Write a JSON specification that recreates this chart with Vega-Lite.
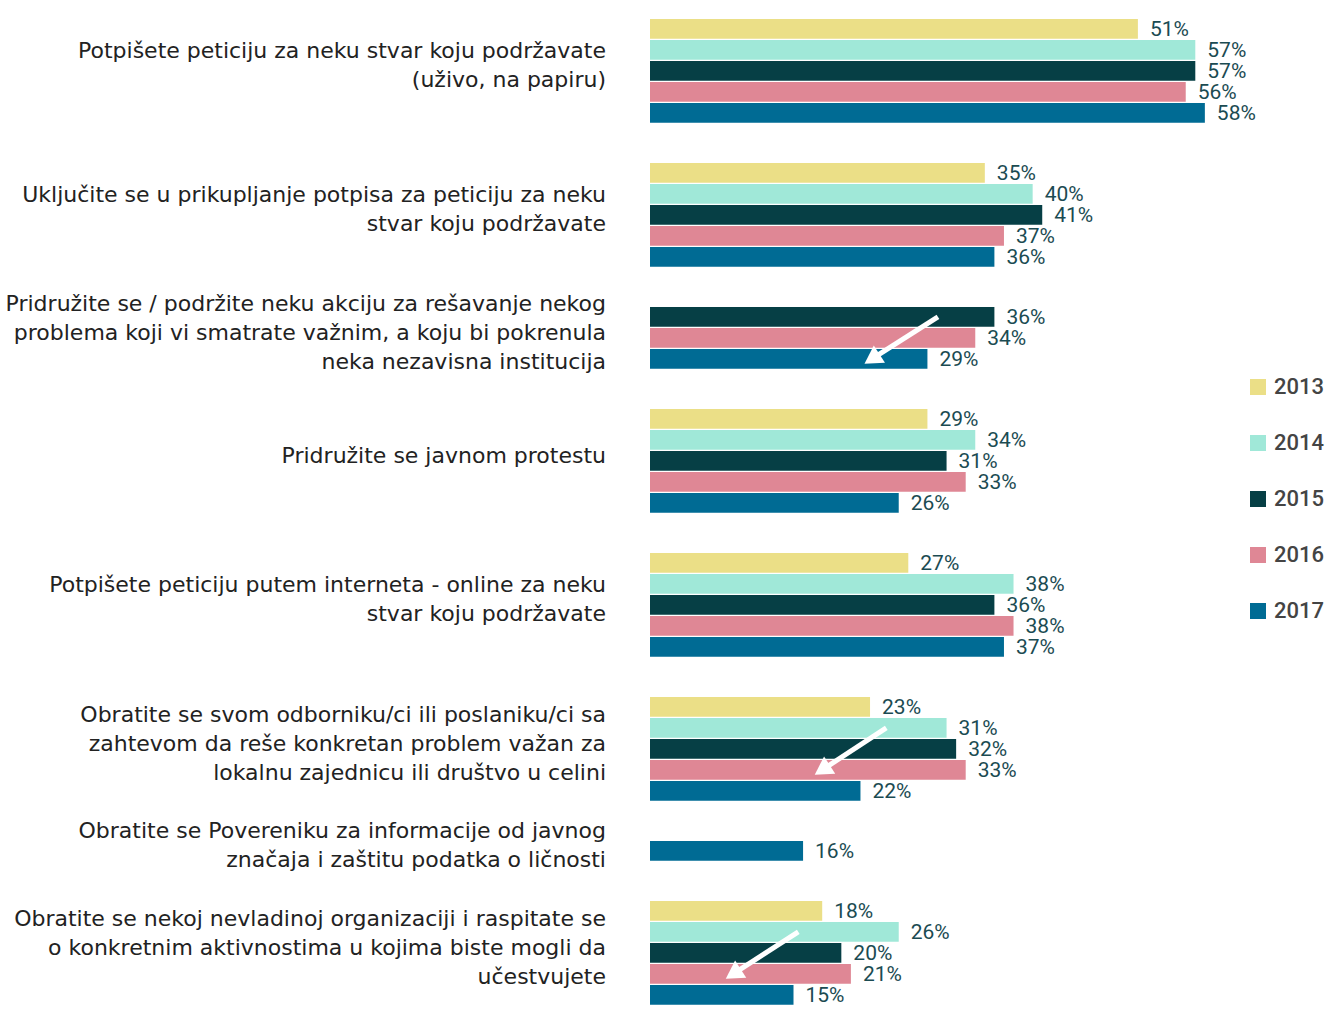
{
  "$schema": "https://vega.github.io/schema/vega-lite/v6.json",
  "padding": {"left": 5, "top": 18, "right": 5, "bottom": 0},
  "background": "white",
  "bounds": "flush",
  "config": {"view": {"stroke": null}, "font": "Roboto"},
  "data": {"values": [
    {"cat": "Potpišete peticiju za neku stvar koju podržavate|(uživo, na papiru)", "year": 2013, "value": 51},
    {"cat": "Potpišete peticiju za neku stvar koju podržavate|(uživo, na papiru)", "year": 2014, "value": 57},
    {"cat": "Potpišete peticiju za neku stvar koju podržavate|(uživo, na papiru)", "year": 2015, "value": 57},
    {"cat": "Potpišete peticiju za neku stvar koju podržavate|(uživo, na papiru)", "year": 2016, "value": 56},
    {"cat": "Potpišete peticiju za neku stvar koju podržavate|(uživo, na papiru)", "year": 2017, "value": 58},
    {"cat": "Uključite se u prikupljanje potpisa za peticiju za neku|stvar koju podržavate", "year": 2013, "value": 35},
    {"cat": "Uključite se u prikupljanje potpisa za peticiju za neku|stvar koju podržavate", "year": 2014, "value": 40},
    {"cat": "Uključite se u prikupljanje potpisa za peticiju za neku|stvar koju podržavate", "year": 2015, "value": 41},
    {"cat": "Uključite se u prikupljanje potpisa za peticiju za neku|stvar koju podržavate", "year": 2016, "value": 37},
    {"cat": "Uključite se u prikupljanje potpisa za peticiju za neku|stvar koju podržavate", "year": 2017, "value": 36},
    {"cat": "Pridružite se / podržite neku akciju za rešavanje nekog|problema koji vi smatrate važnim, a koju bi pokrenula|neka nezavisna institucija", "year": 2015, "value": 36},
    {"cat": "Pridružite se / podržite neku akciju za rešavanje nekog|problema koji vi smatrate važnim, a koju bi pokrenula|neka nezavisna institucija", "year": 2016, "value": 34},
    {"cat": "Pridružite se / podržite neku akciju za rešavanje nekog|problema koji vi smatrate važnim, a koju bi pokrenula|neka nezavisna institucija", "year": 2017, "value": 29},
    {"cat": "Pridružite se / podržite neku akciju za rešavanje nekog|problema koji vi smatrate važnim, a koju bi pokrenula|neka nezavisna institucija", "arrow": "a1", "year": 2015, "ax": 30.1},
    {"cat": "Pridružite se / podržite neku akciju za rešavanje nekog|problema koji vi smatrate važnim, a koju bi pokrenula|neka nezavisna institucija", "arrow": "a1", "year": 2017, "ax": 23.2},
    {"cat": "Pridružite se javnom protestu", "year": 2013, "value": 29},
    {"cat": "Pridružite se javnom protestu", "year": 2014, "value": 34},
    {"cat": "Pridružite se javnom protestu", "year": 2015, "value": 31},
    {"cat": "Pridružite se javnom protestu", "year": 2016, "value": 33},
    {"cat": "Pridružite se javnom protestu", "year": 2017, "value": 26},
    {"cat": "Potpišete peticiju putem interneta - online za neku|stvar koju podržavate", "year": 2013, "value": 27},
    {"cat": "Potpišete peticiju putem interneta - online za neku|stvar koju podržavate", "year": 2014, "value": 38},
    {"cat": "Potpišete peticiju putem interneta - online za neku|stvar koju podržavate", "year": 2015, "value": 36},
    {"cat": "Potpišete peticiju putem interneta - online za neku|stvar koju podržavate", "year": 2016, "value": 38},
    {"cat": "Potpišete peticiju putem interneta - online za neku|stvar koju podržavate", "year": 2017, "value": 37},
    {"cat": "Obratite se svom odborniku/ci ili poslaniku/ci sa|zahtevom da reše konkretan problem važan za|lokalnu zajednicu ili društvo u celini", "year": 2013, "value": 23},
    {"cat": "Obratite se svom odborniku/ci ili poslaniku/ci sa|zahtevom da reše konkretan problem važan za|lokalnu zajednicu ili društvo u celini", "year": 2014, "value": 31},
    {"cat": "Obratite se svom odborniku/ci ili poslaniku/ci sa|zahtevom da reše konkretan problem važan za|lokalnu zajednicu ili društvo u celini", "year": 2015, "value": 32},
    {"cat": "Obratite se svom odborniku/ci ili poslaniku/ci sa|zahtevom da reše konkretan problem važan za|lokalnu zajednicu ili društvo u celini", "year": 2016, "value": 33},
    {"cat": "Obratite se svom odborniku/ci ili poslaniku/ci sa|zahtevom da reše konkretan problem važan za|lokalnu zajednicu ili društvo u celini", "year": 2017, "value": 22},
    {"cat": "Obratite se svom odborniku/ci ili poslaniku/ci sa|zahtevom da reše konkretan problem važan za|lokalnu zajednicu ili društvo u celini", "arrow": "a2", "year": 2014, "ax": 24.7},
    {"cat": "Obratite se svom odborniku/ci ili poslaniku/ci sa|zahtevom da reše konkretan problem važan za|lokalnu zajednicu ili društvo u celini", "arrow": "a2", "year": 2016, "ax": 18.0},
    {"cat": "Obratite se Povereniku za informacije od javnog|značaja i zaštitu podatka o ličnosti", "year": 2017, "value": 16},
    {"cat": "Obratite se nekoj nevladinoj organizaciji i raspitate se|o konkretnim aktivnostima u kojima biste mogli da|učestvujete", "year": 2013, "value": 18},
    {"cat": "Obratite se nekoj nevladinoj organizaciji i raspitate se|o konkretnim aktivnostima u kojima biste mogli da|učestvujete", "year": 2014, "value": 26},
    {"cat": "Obratite se nekoj nevladinoj organizaciji i raspitate se|o konkretnim aktivnostima u kojima biste mogli da|učestvujete", "year": 2015, "value": 20},
    {"cat": "Obratite se nekoj nevladinoj organizaciji i raspitate se|o konkretnim aktivnostima u kojima biste mogli da|učestvujete", "year": 2016, "value": 21},
    {"cat": "Obratite se nekoj nevladinoj organizaciji i raspitate se|o konkretnim aktivnostima u kojima biste mogli da|učestvujete", "year": 2017, "value": 15},
    {"cat": "Obratite se nekoj nevladinoj organizaciji i raspitate se|o konkretnim aktivnostima u kojima biste mogli da|učestvujete", "arrow": "a3", "year": 2014, "ax": 15.5},
    {"cat": "Obratite se nekoj nevladinoj organizaciji i raspitate se|o konkretnim aktivnostima u kojima biste mogli da|učestvujete", "arrow": "a3", "year": 2016, "ax": 8.7}
  ]},
  "facet": {
    "row": {
      "field": "cat",
      "type": "nominal",
      "sort": [
        "Potpišete peticiju za neku stvar koju podržavate|(uživo, na papiru)",
        "Uključite se u prikupljanje potpisa za peticiju za neku|stvar koju podržavate",
        "Pridružite se / podržite neku akciju za rešavanje nekog|problema koji vi smatrate važnim, a koju bi pokrenula|neka nezavisna institucija",
        "Pridružite se javnom protestu",
        "Potpišete peticiju putem interneta - online za neku|stvar koju podržavate",
        "Obratite se svom odborniku/ci ili poslaniku/ci sa|zahtevom da reše konkretan problem važan za|lokalnu zajednicu ili društvo u celini",
        "Obratite se Povereniku za informacije od javnog|značaja i zaštitu podatka o ličnosti",
        "Obratite se nekoj nevladinoj organizaciji i raspitate se|o konkretnim aktivnostima u kojima biste mogli da|učestvujete"
      ],
      "header": {"title": null, "labels": false}
    }
  },
  "spacing": 40,
  "resolve": {"scale": {"y": "independent"}},
  "spec": {
    "width": 574,
    "height": {"step": 21},
    "layer": [
      {
        "transform": [{"filter": "isValid(datum.value)"}],
        "mark": {"type": "bar"},
        "encoding": {
          "x": {"field": "value", "type": "quantitative", "scale": {"domain": [0, 60], "nice": false}, "axis": null},
          "y": {"field": "year", "type": "ordinal", "scale": {"type": "band", "paddingInner": 0.06, "paddingOuter": 0}, "axis": null},
          "color": {
            "field": "year",
            "type": "nominal",
            "scale": {"domain": [2013, 2014, 2015, 2016, 2017], "range": ["#ebdf87", "#a0e8d8", "#063f45", "#df8795", "#006b94"]},
            "legend": {
              "title": null,
              "orient": "none",
              "legendX": 597,
              "legendY": 357,
              "symbolType": "square",
              "symbolSize": 256,
              "symbolStrokeWidth": 0,
              "labelFont": "Roboto",
              "labelFontSize": 22,
              "labelFontWeight": 500,
              "labelColor": "#444444",
              "labelOffset": 5,
              "rowPadding": 34
            }
          }
        }
      },
      {
        "transform": [{"filter": "isValid(datum.value)"}],
        "mark": {"type": "text", "align": "left", "baseline": "middle", "dx": 12, "dy": 1, "font": "Roboto", "fontSize": 21, "color": "#1b4b52"},
        "encoding": {
          "x": {"field": "value", "type": "quantitative"},
          "y": {"field": "year", "type": "ordinal"},
          "text": {"value": {"expr": "datum.value + '%'"}}
        }
      },
      {
        "transform": [
          {"filter": "isValid(datum.value)"},
          {"joinaggregate": [{"op": "median", "field": "year", "as": "midyear"}], "groupby": ["cat"]},
          {"filter": "datum.year == datum.midyear"}
        ],
        "mark": {
          "type": "text",
          "align": "right",
          "baseline": "middle",
          "lineBreak": "|",
          "lineHeight": 29,
          "dx": -44,
          "dy": {"expr": "-(length(split(datum.cat, '|')) - 1) * 14.5 - 5"},
          "font": "DejaVu Sans",
          "fontSize": 22,
          "color": "#222222"
        },
        "encoding": {
          "x": {"datum": 0, "type": "quantitative"},
          "y": {"field": "year", "type": "ordinal"},
          "text": {"field": "cat"}
        }
      },
      {
        "transform": [{"filter": "isValid(datum.arrow)"}],
        "mark": {"type": "line", "color": "white", "strokeWidth": 5},
        "encoding": {
          "x": {"field": "ax", "type": "quantitative"},
          "y": {"field": "year", "type": "ordinal"},
          "detail": {"field": "arrow"}
        }
      },
      {
        "transform": [
          {"filter": "isValid(datum.arrow)"},
          {"joinaggregate": [{"op": "min", "field": "ax", "as": "tipx"}], "groupby": ["arrow"]},
          {"filter": "datum.ax == datum.tipx"}
        ],
        "mark": {"type": "point", "shape": "triangle-up", "angle": 237, "size": 420, "filled": true, "color": "white", "opacity": 1},
        "encoding": {
          "x": {"field": "ax", "type": "quantitative"},
          "y": {"field": "year", "type": "ordinal"}
        }
      }
    ]
  }
}
